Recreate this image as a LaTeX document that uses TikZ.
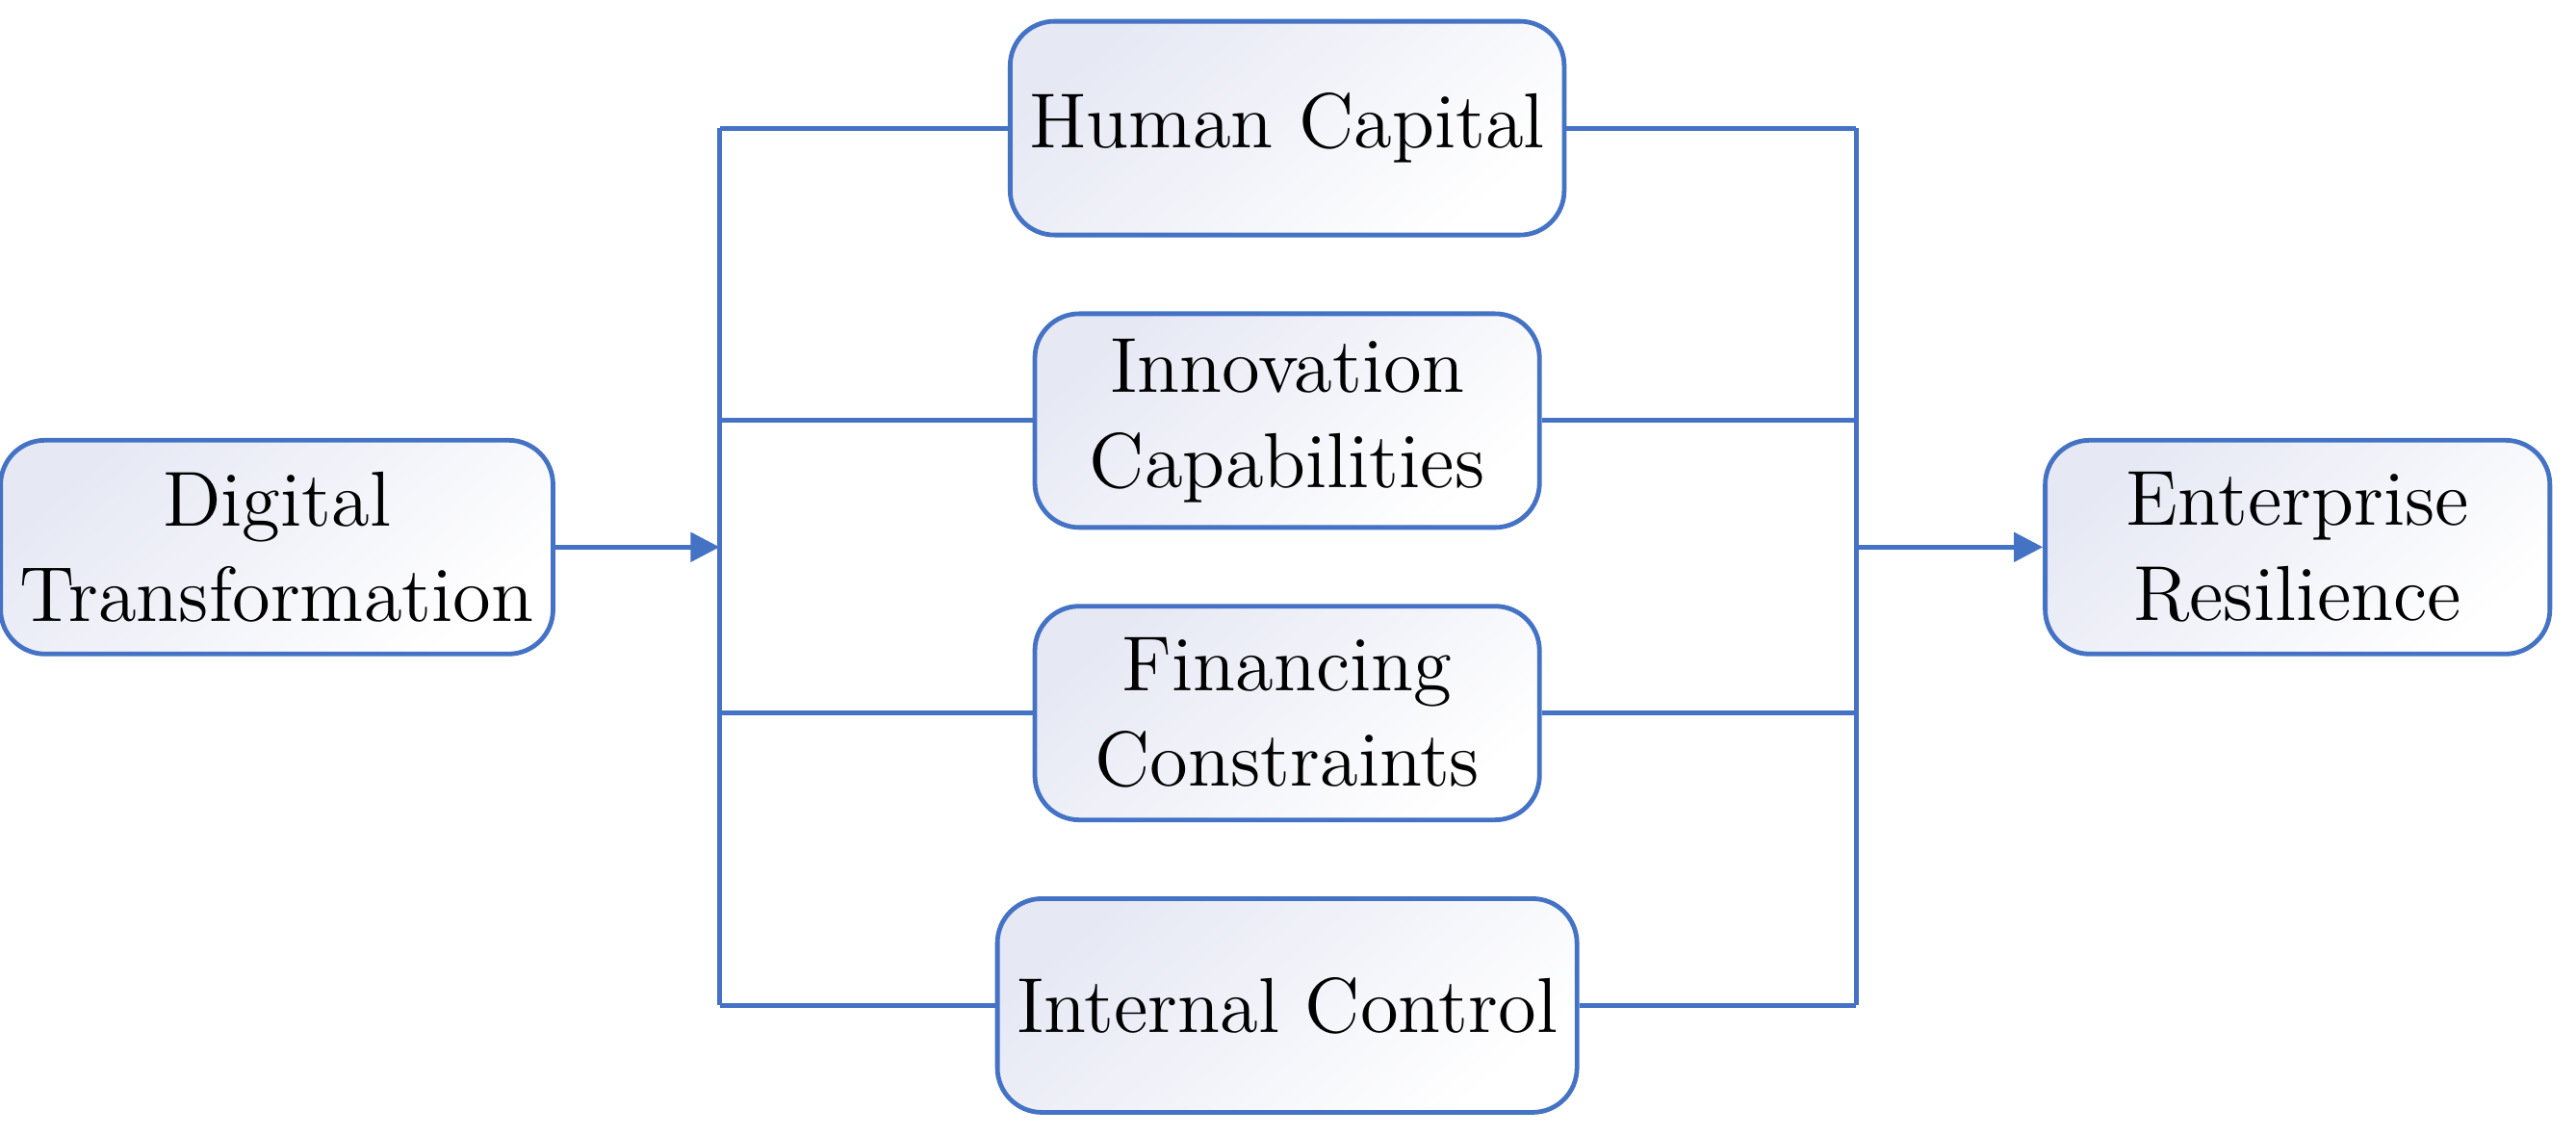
\documentclass[tikz,border=0pt]{standalone}
\usetikzlibrary{arrows.meta}
\definecolor{bl}{HTML}{4472C4}
\definecolor{lav}{HTML}{E6E8F4}
\begin{document}
\begin{tikzpicture}[x=0.01cm,y=-0.01cm,
  box/.style={draw=bl,line width=0.8pt,rounded corners=0.27cm,minimum width=3.07cm,minimum height=1.3cm,
    top color=lav,bottom color=white,shading angle=40,align=center,font=\fontsize{13.5}{16.5}\selectfont},
  ln/.style={draw=bl,line width=0.8pt},
  ar/.style={ln,-{Triangle[length=5pt,width=5pt]}}]
\useasboundingbox (0,0) rectangle (1568,691);
\node[box] (dt) at (168.5,333) {Digital\\Transformation};
\node[box] (hc) at (783.5,78) {Human Capital};
\node[box] (ic) at (783.5,256) {Innovation\\Capabilities};
\node[box] (fc) at (783.5,434) {Financing\\Constraints};
\node[box] (in) at (783.5,612) {Internal Control};
\node[box] (er) at (1398.5,333) {Enterprise\\Resilience};
\coordinate (lm) at (438,333);
\coordinate (lt) at (438,78);
\coordinate (lb) at (438,612);
\coordinate (rm) at (1130,333);
\coordinate (rt) at (1130,78);
\coordinate (rb) at (1130,612);
\draw[ar] (dt.east) -- (lm);
\draw[ln] (lt) -- (lb);
\draw[ln] (rt) -- (rb);
\foreach \n in {hc,ic,fc,in}{
  \draw[ln] (\n.west) -- (\n.west -| lm);
  \draw[ln] (\n.east) -- (\n.east -| rm);
}
\draw[ar] (rm) -- (er.west);
\end{tikzpicture}
\end{document}
